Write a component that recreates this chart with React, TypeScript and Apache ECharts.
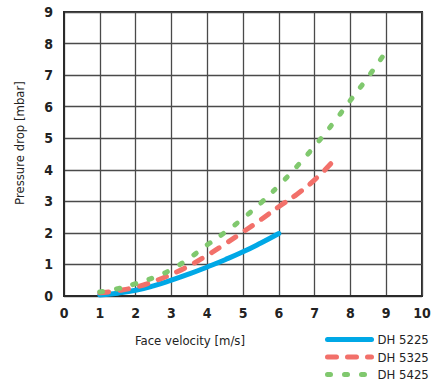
import React, { useEffect, useRef } from "react";
import * as echarts from "echarts";

const xTicks = [0, 1, 2, 3, 4, 5, 6, 7, 8, 9, 10];
const seriesNames = ["DH 5225", "DH 5325", "DH 5425"];
const dh5225X = [1, 1.5, 2, 2.5, 3, 3.5, 4, 4.5, 5, 5.5, 6];
const dh5225Y = [0.03, 0.09, 0.18, 0.32, 0.5, 0.7, 0.92, 1.15, 1.4, 1.68, 1.98];
const dh5325X = [1, 1.5, 2, 2.5, 3, 3.5, 4, 4.5, 5, 5.5, 6, 6.5, 7, 7.5];
const dh5325Y = [0.1, 0.17, 0.28, 0.46, 0.69, 0.96, 1.29, 1.65, 2.03, 2.42, 2.83, 3.22, 3.68, 4.25];
const dh5425X = [1, 1.5, 2, 2.5, 3, 3.5, 4, 4.5, 5, 5.5, 6, 6.5, 7, 7.5, 8, 8.5, 9];
const dh5425Y = [0.13, 0.23, 0.39, 0.58, 0.84, 1.2, 1.62, 2.02, 2.46, 2.95, 3.5, 4.1, 4.75, 5.45, 6.2, 6.95, 7.75];

const FONT = "'Liberation Sans Narrow', 'Arial Narrow', 'DejaVu Sans Condensed', sans-serif";

const zip = (xs: number[], ys: number[]) => xs.map((x, i) => [x, ys[i]]);

export default function App() {
  const ref = useRef<HTMLDivElement>(null);
  useEffect(() => {
    if (!ref.current) return;
    const chart = echarts.init(ref.current, undefined, { renderer: "svg" });
    const colors = ["#00a8e6", "#f2706a", "#80c86e"];
    chart.setOption({
      animation: false,
      backgroundColor: "#ffffff",
      grid: {
        left: 64,
        top: 12,
        width: 358,
        height: 284,
        show: true,
        borderColor: "#2a2a2a",
        borderWidth: 2,
      },
      xAxis: {
        type: "value",
        min: xTicks[0],
        max: xTicks[xTicks.length - 1],
        interval: 1,
        name: "Face velocity [m/s]",
        nameLocation: "middle",
        nameGap: 38,
        nameTextStyle: { fontFamily: FONT, fontSize: 13, color: "#222", padding: [0, 106, 0, 0] },
        axisLine: { show: true, lineStyle: { color: "#2a2a2a", width: 2 } },
        axisTick: { show: false },
        axisLabel: { fontFamily: FONT, fontSize: 14, fontWeight: "bold", color: "#222", margin: 10 },
        splitLine: { show: true, lineStyle: { color: "#4a4a4a", width: 1.3 } },
      },
      yAxis: {
        type: "value",
        min: 0,
        max: 9,
        interval: 1,
        name: "Pressure drop [mbar]",
        nameLocation: "middle",
        nameGap: 38,
        nameTextStyle: { fontFamily: FONT, fontSize: 13, color: "#222", padding: [0, 0, 0, 22] },
        axisLine: { show: true, lineStyle: { color: "#2a2a2a", width: 2 } },
        axisTick: { show: false },
        axisLabel: { fontFamily: FONT, fontSize: 14, fontWeight: "bold", color: "#222", margin: 11 },
        splitLine: { show: true, lineStyle: { color: "#4a4a4a", width: 1.3 } },
      },
      legend: {
        orient: "vertical",
        left: 320,
        top: 328,
        itemWidth: 44,
        itemHeight: 14,
        itemGap: 4.5,
        itemStyle: { opacity: 0 },
        lineStyle: { width: 5, cap: "round" },
        textStyle: { fontFamily: FONT, fontSize: 13, color: "#222", padding: [0, 0, 0, 1] },
        data: seriesNames,
      },
      series: [
        {
          name: seriesNames[0],
          type: "line",
          smooth: true,
          symbol: "none",
          color: colors[0],
          lineStyle: { width: 5, color: colors[0], cap: "round" },
          data: zip(dh5225X, dh5225Y),
          z: 3,
        },
        {
          name: seriesNames[1],
          type: "line",
          smooth: true,
          symbol: "none",
          color: colors[1],
          lineStyle: { width: 5, color: colors[1], type: [9, 11], cap: "round" },
          data: zip(dh5325X, dh5325Y),
          z: 4,
        },
        {
          name: seriesNames[2],
          type: "line",
          smooth: true,
          symbol: "none",
          color: colors[2],
          lineStyle: { width: 5, color: colors[2], type: [3, 14], cap: "round" },
          data: zip(dh5425X, dh5425Y),
          z: 5,
        },
      ],
    });
    return () => chart.dispose();
  }, []);
  return (
    <div
      ref={ref}
      style={{ position: "fixed", left: 0, top: 0, width: 444, height: 387, background: "#fff" }}
    />
  );
}
